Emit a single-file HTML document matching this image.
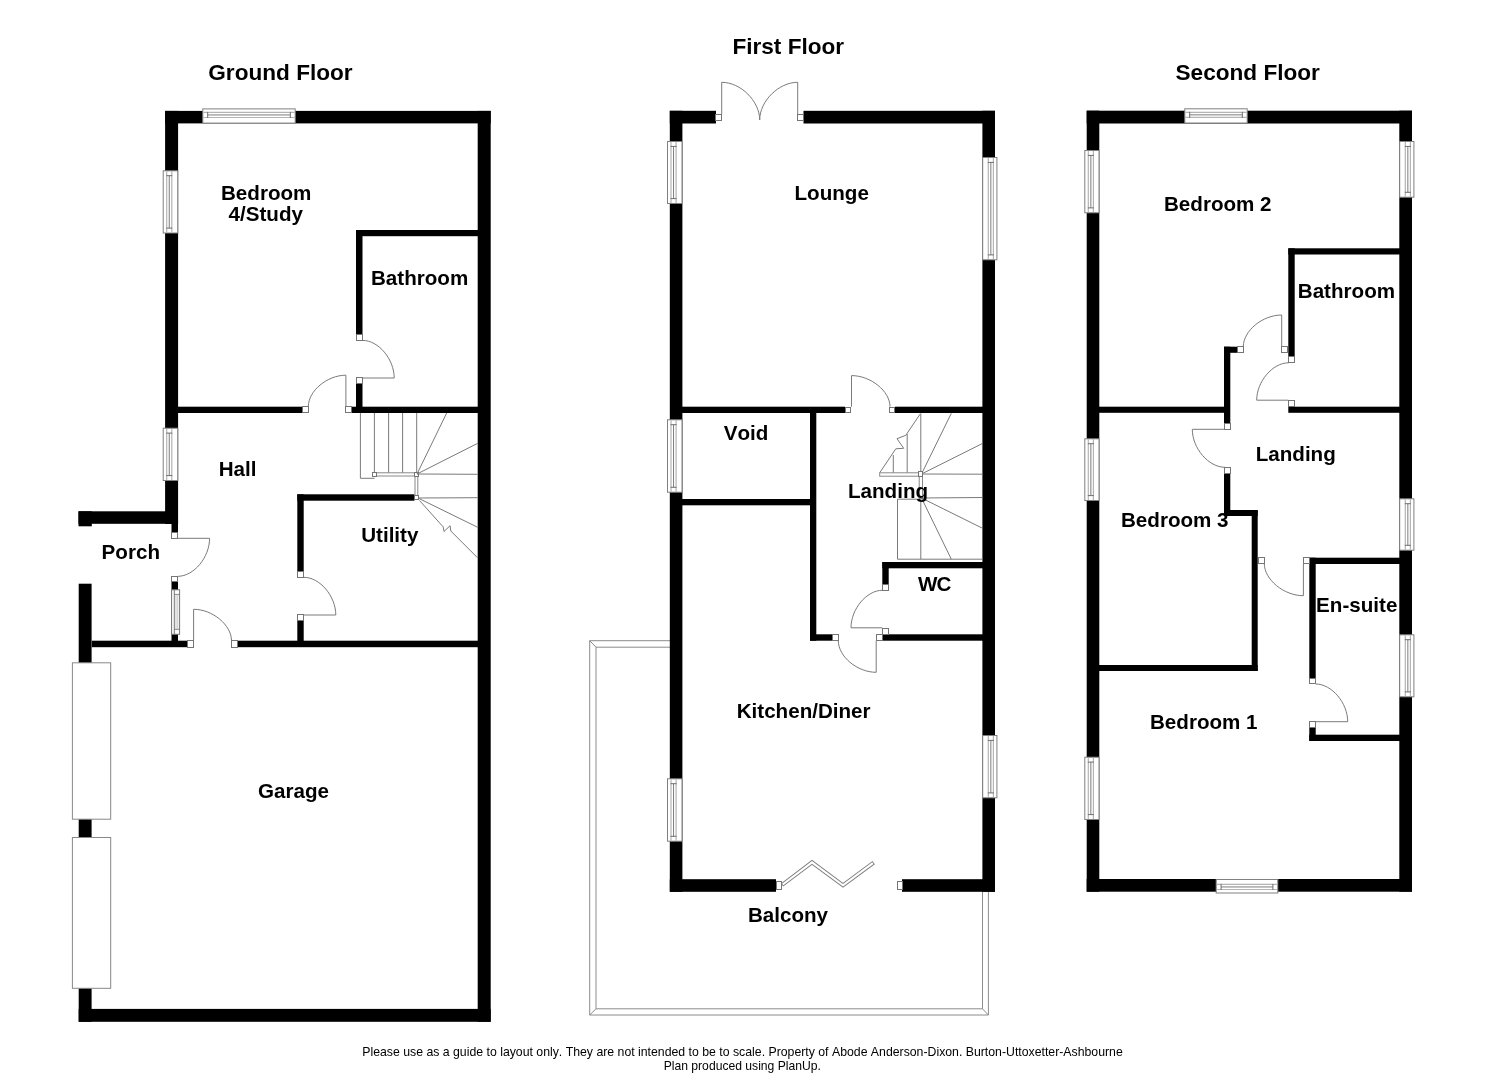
<!DOCTYPE html>
<html><head><meta charset="utf-8"><title>Floor plan</title>
<style>
html,body{margin:0;padding:0;background:#fff;}
svg{display:block;will-change:transform;}
text{font-family:"Liberation Sans",sans-serif;fill:#000;font-kerning:none;}
</style></head><body>
<svg width="1485" height="1080" viewBox="0 0 1485 1080">
<rect width="1485" height="1080" fill="#fff"/>
<rect x="165.1" y="110.9" width="325.6" height="12.5" fill="#000"/>
<rect x="165.1" y="110.9" width="13.0" height="413.1" fill="#000"/>
<rect x="477.7" y="110.9" width="13.0" height="910.9" fill="#000"/>
<rect x="78.7" y="1008.9" width="412.0" height="12.9" fill="#000"/>
<rect x="78.7" y="583.7" width="12.9" height="438.1" fill="#000"/>
<rect x="78.5" y="511.3" width="99.5" height="12.5" fill="#000"/>
<rect x="78.5" y="511.3" width="13.3" height="15.0" fill="#000"/>
<rect x="171.5" y="523" width="6.5" height="9.5" fill="#000"/>
<rect x="171.5" y="582" width="6.5" height="59" fill="#000"/>
<rect x="178" y="406.7" width="124" height="6.3" fill="#000"/>
<rect x="352" y="406.7" width="126" height="6.3" fill="#000"/>
<rect x="356" y="230" width="122" height="6.2" fill="#000"/>
<rect x="356" y="230" width="6.5" height="104" fill="#000"/>
<rect x="356" y="384" width="6.5" height="23" fill="#000"/>
<rect x="297.3" y="494.3" width="117.2" height="6.4" fill="#000"/>
<rect x="297.3" y="494.3" width="6.4" height="76.7" fill="#000"/>
<rect x="297.3" y="621" width="6.4" height="20" fill="#000"/>
<rect x="91.8" y="640.7" width="95.5" height="6.5" fill="#000"/>
<rect x="237.5" y="640.7" width="240.5" height="6.5" fill="#000"/>
<rect x="202.8" y="108.9" width="92.4" height="14.2" fill="#fff" stroke="#808080" stroke-width="1"/>
<line x1="203.3" y1="112.4" x2="294.7" y2="112.4" stroke="#b4b4b4" stroke-width="1.2"/>
<line x1="203.3" y1="117.5" x2="294.7" y2="117.5" stroke="#b4b4b4" stroke-width="1.2"/>
<line x1="207.70000000000002" y1="114.95" x2="290.3" y2="114.95" stroke="#6e6e6e" stroke-width="0.9"/>
<line x1="207.70000000000002" y1="111.9" x2="207.70000000000002" y2="118.0" stroke="#6e6e6e" stroke-width="1"/>
<line x1="290.3" y1="111.9" x2="290.3" y2="118.0" stroke="#6e6e6e" stroke-width="1"/>
<rect x="163.2" y="170.8" width="14.6" height="62.2" fill="#fff" stroke="#808080" stroke-width="1"/>
<line x1="166.7" y1="171.3" x2="166.7" y2="232.5" stroke="#b4b4b4" stroke-width="1.2"/>
<line x1="171.79999999999998" y1="171.3" x2="171.79999999999998" y2="232.5" stroke="#b4b4b4" stroke-width="1.2"/>
<line x1="169.25" y1="175.70000000000002" x2="169.25" y2="228.1" stroke="#6e6e6e" stroke-width="0.9"/>
<line x1="166.2" y1="175.70000000000002" x2="172.29999999999998" y2="175.70000000000002" stroke="#6e6e6e" stroke-width="1"/>
<line x1="166.2" y1="228.1" x2="172.29999999999998" y2="228.1" stroke="#6e6e6e" stroke-width="1"/>
<rect x="163.2" y="428.2" width="14.6" height="52.3" fill="#fff" stroke="#808080" stroke-width="1"/>
<line x1="166.7" y1="428.7" x2="166.7" y2="480" stroke="#b4b4b4" stroke-width="1.2"/>
<line x1="171.79999999999998" y1="428.7" x2="171.79999999999998" y2="480" stroke="#b4b4b4" stroke-width="1.2"/>
<line x1="169.25" y1="433.09999999999997" x2="169.25" y2="475.6" stroke="#6e6e6e" stroke-width="0.9"/>
<line x1="166.2" y1="433.09999999999997" x2="172.29999999999998" y2="433.09999999999997" stroke="#6e6e6e" stroke-width="1"/>
<line x1="166.2" y1="475.6" x2="172.29999999999998" y2="475.6" stroke="#6e6e6e" stroke-width="1"/>
<rect x="171.6" y="589.8" width="8.0" height="44.5" fill="#fff" stroke="#777" stroke-width="1"/>
<line x1="174.3" y1="589.8" x2="174.3" y2="634.3" stroke="#777" stroke-width="1"/>
<line x1="174.3" y1="594.4" x2="179.6" y2="594.4" stroke="#777" stroke-width="1"/>
<line x1="174.3" y1="629.3" x2="179.6" y2="629.3" stroke="#777" stroke-width="1"/>
<line x1="176" y1="594.4" x2="176" y2="629.3" stroke="#c6c6c6" stroke-width="1"/>
<line x1="177.8" y1="594.4" x2="177.8" y2="629.3" stroke="#c6c6c6" stroke-width="1"/>
<rect x="72.4" y="662.8" width="38.3" height="156.4" fill="#fff" stroke="#888" stroke-width="1"/>
<rect x="72.4" y="837.5" width="38.3" height="150.8" fill="#fff" stroke="#888" stroke-width="1"/>
<rect x="302.5" y="406.5" width="6.0" height="6.0" fill="#fff" stroke="#757575" stroke-width="1"/>
<rect x="345.5" y="406.5" width="6.0" height="6.0" fill="#fff" stroke="#757575" stroke-width="1"/>
<rect x="356.5" y="334.5" width="6.0" height="6.0" fill="#fff" stroke="#757575" stroke-width="1"/>
<rect x="356.5" y="377.5" width="6.0" height="6.0" fill="#fff" stroke="#757575" stroke-width="1"/>
<rect x="171.5" y="532.5" width="6.0" height="6.0" fill="#fff" stroke="#757575" stroke-width="1"/>
<rect x="171.5" y="576.5" width="6.0" height="5.0" fill="#fff" stroke="#757575" stroke-width="1"/>
<rect x="297.5" y="571.5" width="6.0" height="6.0" fill="#fff" stroke="#757575" stroke-width="1"/>
<rect x="297.5" y="614.5" width="6.0" height="6.0" fill="#fff" stroke="#757575" stroke-width="1"/>
<rect x="187.5" y="640.5" width="6.0" height="7.0" fill="#fff" stroke="#757575" stroke-width="1"/>
<rect x="231.5" y="640.5" width="6.0" height="7.0" fill="#fff" stroke="#757575" stroke-width="1"/>
<path d="M345.9 406.7 L345.9 375.2 C327.1 375.2 308.3 390.95 308.3 406.7" fill="none" stroke="#7a7a7a" stroke-width="1"/>
<path d="M362.7 378 L394.2 378 C394.2 359.2 378.45 340.4 362.7 340.4" fill="none" stroke="#7a7a7a" stroke-width="1"/>
<path d="M178 538.3 L209.6 538.3 C209.6 557.3 193.8 576.3 178 576.3" fill="none" stroke="#7a7a7a" stroke-width="1"/>
<path d="M193.6 640.7 L193.6 609.3 C212.55 609.3 231.5 625.0 231.5 640.7" fill="none" stroke="#7a7a7a" stroke-width="1"/>
<path d="M303.8 615 L335.8 615 C335.8 596.15 319.8 577.3 303.8 577.3" fill="none" stroke="#7a7a7a" stroke-width="1"/>
<line x1="360.4" y1="413" x2="360.4" y2="478.3" stroke="#7a7a7a" stroke-width="1"/>
<line x1="374.4" y1="413" x2="374.4" y2="473" stroke="#7a7a7a" stroke-width="1"/>
<line x1="388.6" y1="413" x2="388.6" y2="473" stroke="#7a7a7a" stroke-width="1"/>
<line x1="402.6" y1="413" x2="402.6" y2="473" stroke="#7a7a7a" stroke-width="1"/>
<line x1="416.7" y1="413" x2="416.7" y2="473" stroke="#7a7a7a" stroke-width="1"/>
<line x1="360.4" y1="478.3" x2="374.6" y2="478.3" stroke="#7a7a7a" stroke-width="1"/>
<rect x="372.5" y="472.8" width="46.0" height="3.2" fill="#fff" stroke="#888" stroke-width="1"/>
<rect x="415" y="476" width="2.8" height="19.7" fill="#fff" stroke="#888" stroke-width="1"/>
<rect x="372.5" y="472.5" width="4.0" height="4.0" fill="#fff" stroke="#757575" stroke-width="1"/>
<rect x="414.5" y="472.5" width="4.0" height="4.0" fill="#fff" stroke="#757575" stroke-width="1"/>
<rect x="414.5" y="495.5" width="4.0" height="4.0" fill="#fff" stroke="#757575" stroke-width="1"/>
<line x1="417" y1="474" x2="446.7" y2="413" stroke="#7a7a7a" stroke-width="1"/>
<line x1="417" y1="474" x2="477.7" y2="443.3" stroke="#7a7a7a" stroke-width="1"/>
<line x1="417" y1="474" x2="477.7" y2="474.3" stroke="#7a7a7a" stroke-width="1"/>
<line x1="418" y1="498" x2="477.7" y2="497.7" stroke="#7a7a7a" stroke-width="1"/>
<line x1="418" y1="498" x2="477.7" y2="527.3" stroke="#7a7a7a" stroke-width="1"/>
<path d="M419.5 500.5 L443.2 526.9 L444 531.5 L450.1 525.7 L450.8 531 L477.6 557.8" fill="none" stroke="#7a7a7a" stroke-width="1"/>
<path d="M670 640.7 L589.7 640.7 L589.7 1015 L988.4 1015 L988.4 891 M670 647.2 L596 647.2 L596 1008.8 L982.5 1008.8 L982.5 891 M589.7 640.7 L596 647.2 M589.7 1015 L596 1008.8 M988.4 1015 L982.5 1008.8" fill="none" stroke="#8c8c8c" stroke-width="1"/>
<rect x="669.8" y="110.8" width="46.2" height="12.7" fill="#000"/>
<rect x="803.5" y="110.8" width="191.5" height="12.7" fill="#000"/>
<rect x="669.8" y="110.8" width="12.6" height="781.0" fill="#000"/>
<rect x="982.4" y="110.8" width="12.6" height="781.0" fill="#000"/>
<rect x="669.8" y="879.2" width="106.2" height="12.6" fill="#000"/>
<rect x="902" y="879.2" width="93" height="12.6" fill="#000"/>
<rect x="682" y="406.7" width="163" height="6.3" fill="#000"/>
<rect x="895" y="406.7" width="88" height="6.3" fill="#000"/>
<rect x="810" y="413" width="6.3" height="227.7" fill="#000"/>
<rect x="682" y="499" width="129" height="6.3" fill="#000"/>
<rect x="810" y="634.3" width="22.5" height="6.4" fill="#000"/>
<rect x="882.3" y="634.3" width="100.7" height="6.4" fill="#000"/>
<rect x="882.3" y="562" width="100.7" height="6.3" fill="#000"/>
<rect x="882.3" y="562" width="6.4" height="22" fill="#000"/>
<rect x="667.5" y="141.5" width="14.5" height="62.0" fill="#fff" stroke="#808080" stroke-width="1"/>
<line x1="671.0" y1="142" x2="671.0" y2="203" stroke="#b4b4b4" stroke-width="1.2"/>
<line x1="676.1" y1="142" x2="676.1" y2="203" stroke="#b4b4b4" stroke-width="1.2"/>
<line x1="673.55" y1="146.4" x2="673.55" y2="198.6" stroke="#6e6e6e" stroke-width="0.9"/>
<line x1="670.5" y1="146.4" x2="676.6" y2="146.4" stroke="#6e6e6e" stroke-width="1"/>
<line x1="670.5" y1="198.6" x2="676.6" y2="198.6" stroke="#6e6e6e" stroke-width="1"/>
<rect x="667.5" y="419.8" width="14.5" height="72.4" fill="#fff" stroke="#808080" stroke-width="1"/>
<line x1="671.0" y1="420.3" x2="671.0" y2="491.7" stroke="#b4b4b4" stroke-width="1.2"/>
<line x1="676.1" y1="420.3" x2="676.1" y2="491.7" stroke="#b4b4b4" stroke-width="1.2"/>
<line x1="673.55" y1="424.7" x2="673.55" y2="487.3" stroke="#6e6e6e" stroke-width="0.9"/>
<line x1="670.5" y1="424.7" x2="676.6" y2="424.7" stroke="#6e6e6e" stroke-width="1"/>
<line x1="670.5" y1="487.3" x2="676.6" y2="487.3" stroke="#6e6e6e" stroke-width="1"/>
<rect x="667.5" y="778.8" width="14.5" height="62.4" fill="#fff" stroke="#808080" stroke-width="1"/>
<line x1="671.0" y1="779.3" x2="671.0" y2="840.7" stroke="#b4b4b4" stroke-width="1.2"/>
<line x1="676.1" y1="779.3" x2="676.1" y2="840.7" stroke="#b4b4b4" stroke-width="1.2"/>
<line x1="673.55" y1="783.6999999999999" x2="673.55" y2="836.3000000000001" stroke="#6e6e6e" stroke-width="0.9"/>
<line x1="670.5" y1="783.6999999999999" x2="676.6" y2="783.6999999999999" stroke="#6e6e6e" stroke-width="1"/>
<line x1="670.5" y1="836.3000000000001" x2="676.6" y2="836.3000000000001" stroke="#6e6e6e" stroke-width="1"/>
<rect x="982.7" y="157.5" width="14.2" height="102.3" fill="#fff" stroke="#808080" stroke-width="1"/>
<line x1="993.4" y1="158" x2="993.4" y2="259.3" stroke="#b4b4b4" stroke-width="1.2"/>
<line x1="988.3" y1="158" x2="988.3" y2="259.3" stroke="#b4b4b4" stroke-width="1.2"/>
<line x1="990.8499999999999" y1="162.4" x2="990.8499999999999" y2="254.9" stroke="#6e6e6e" stroke-width="0.9"/>
<line x1="987.8" y1="162.4" x2="993.9" y2="162.4" stroke="#6e6e6e" stroke-width="1"/>
<line x1="987.8" y1="254.9" x2="993.9" y2="254.9" stroke="#6e6e6e" stroke-width="1"/>
<rect x="982.7" y="735.5" width="14.2" height="62.3" fill="#fff" stroke="#808080" stroke-width="1"/>
<line x1="993.4" y1="736" x2="993.4" y2="797.3" stroke="#b4b4b4" stroke-width="1.2"/>
<line x1="988.3" y1="736" x2="988.3" y2="797.3" stroke="#b4b4b4" stroke-width="1.2"/>
<line x1="990.8499999999999" y1="740.4" x2="990.8499999999999" y2="792.9" stroke="#6e6e6e" stroke-width="0.9"/>
<line x1="987.8" y1="740.4" x2="993.9" y2="740.4" stroke="#6e6e6e" stroke-width="1"/>
<line x1="987.8" y1="792.9" x2="993.9" y2="792.9" stroke="#6e6e6e" stroke-width="1"/>
<rect x="715.5" y="114.5" width="6.0" height="6.0" fill="#fff" stroke="#757575" stroke-width="1"/>
<rect x="797.5" y="114.5" width="6.0" height="6.0" fill="#fff" stroke="#757575" stroke-width="1"/>
<rect x="845.5" y="407.5" width="5.0" height="5.0" fill="#fff" stroke="#757575" stroke-width="1"/>
<rect x="889.5" y="407.5" width="5.0" height="5.0" fill="#fff" stroke="#757575" stroke-width="1"/>
<rect x="832.5" y="634.5" width="6.0" height="6.0" fill="#fff" stroke="#757575" stroke-width="1"/>
<rect x="876.5" y="634.5" width="6.0" height="6.0" fill="#fff" stroke="#757575" stroke-width="1"/>
<rect x="882.5" y="584.5" width="6.0" height="6.0" fill="#fff" stroke="#757575" stroke-width="1"/>
<rect x="882.5" y="628.5" width="6.0" height="6.0" fill="#fff" stroke="#757575" stroke-width="1"/>
<rect x="776.5" y="881.5" width="5.0" height="8.0" fill="#fff" stroke="#757575" stroke-width="1"/>
<rect x="897.5" y="881.5" width="5.0" height="8.0" fill="#fff" stroke="#757575" stroke-width="1"/>
<path d="M721.7 114.3 L721.7 82.3 C740.7 82.3 759.7 101.15 759.7 120" fill="none" stroke="#7a7a7a" stroke-width="1"/>
<path d="M797.7 114.3 L797.7 82.3 C778.7 82.3 759.7 101.15 759.7 120" fill="none" stroke="#7a7a7a" stroke-width="1"/>
<path d="M851.5 406.7 L851.5 375.6 C870.75 375.6 890 391.15 890 406.7" fill="none" stroke="#7a7a7a" stroke-width="1"/>
<path d="M882.3 627.8 L851 627.8 C851 609.05 866.65 590.3 882.3 590.3" fill="none" stroke="#7a7a7a" stroke-width="1"/>
<path d="M876.2 640.7 L876.2 672.3 C857.25 672.3 838.3 656.5 838.3 640.7" fill="none" stroke="#7a7a7a" stroke-width="1"/>
<path d="M782 885 L812 862.3 L843 885.3 L873.7 862.6" fill="none" stroke="#808080" stroke-width="4"/>
<path d="M782.7 884.5 L812 862.3 L843 885.3 L872.9 863.2" fill="none" stroke="#fff" stroke-width="2.1"/>
<line x1="920.8" y1="413.3" x2="920.8" y2="474.2" stroke="#7a7a7a" stroke-width="1"/>
<path d="M920 414.2 L905.8 435.3 L897 438.7 L903.7 448.3 L895.8 448.8 L879.7 472.8" fill="none" stroke="#7a7a7a" stroke-width="1"/>
<line x1="907.2" y1="434" x2="907.2" y2="472.8" stroke="#7a7a7a" stroke-width="1"/>
<line x1="893.3" y1="455" x2="893.3" y2="472.8" stroke="#7a7a7a" stroke-width="1"/>
<rect x="879.7" y="472.8" width="39.5" height="3.4" fill="#fff" stroke="#888" stroke-width="1"/>
<rect x="919.2" y="476" width="3.3" height="22.5" fill="#fff" stroke="#888" stroke-width="1"/>
<line x1="921.5" y1="474" x2="951.3" y2="413.3" stroke="#7a7a7a" stroke-width="1"/>
<line x1="921.5" y1="474" x2="982" y2="443.7" stroke="#7a7a7a" stroke-width="1"/>
<line x1="921.5" y1="474" x2="982" y2="474.2" stroke="#7a7a7a" stroke-width="1"/>
<line x1="921.5" y1="498" x2="982" y2="497.5" stroke="#7a7a7a" stroke-width="1"/>
<line x1="921.5" y1="498" x2="982" y2="528" stroke="#7a7a7a" stroke-width="1"/>
<line x1="921.5" y1="498" x2="951.3" y2="559.2" stroke="#7a7a7a" stroke-width="1"/>
<line x1="920.8" y1="499" x2="920.8" y2="559.2" stroke="#7a7a7a" stroke-width="1"/>
<line x1="897.5" y1="499.2" x2="897.5" y2="559.2" stroke="#7a7a7a" stroke-width="1"/>
<line x1="897.5" y1="559.2" x2="982" y2="559.2" stroke="#7a7a7a" stroke-width="1"/>
<line x1="897.5" y1="499.2" x2="920.8" y2="499.2" stroke="#7a7a7a" stroke-width="1"/>
<rect x="918.5" y="471.5" width="4.0" height="5.0" fill="#fff" stroke="#757575" stroke-width="1"/>
<rect x="1086.7" y="110.7" width="325.3" height="12.8" fill="#000"/>
<rect x="1086.7" y="110.7" width="12.6" height="781.0" fill="#000"/>
<rect x="1399.3" y="110.7" width="12.7" height="781.0" fill="#000"/>
<rect x="1086.7" y="879" width="325.3" height="12.7" fill="#000"/>
<rect x="1288.3" y="248.3" width="111.7" height="6.2" fill="#000"/>
<rect x="1288.3" y="248.3" width="6.4" height="107.7" fill="#000"/>
<rect x="1224" y="346.7" width="13" height="6.1" fill="#000"/>
<rect x="1224" y="346.7" width="6.3" height="76.6" fill="#000"/>
<rect x="1224" y="473.3" width="6.3" height="42.7" fill="#000"/>
<rect x="1099" y="406.7" width="125" height="6.1" fill="#000"/>
<rect x="1288.3" y="406.7" width="111.7" height="6.1" fill="#000"/>
<rect x="1224" y="510" width="33.7" height="6" fill="#000"/>
<rect x="1251.7" y="510" width="6.0" height="161" fill="#000"/>
<rect x="1099" y="665" width="158.7" height="6" fill="#000"/>
<rect x="1309.3" y="557.7" width="90.7" height="6.3" fill="#000"/>
<rect x="1309.3" y="557.7" width="6.4" height="120.3" fill="#000"/>
<rect x="1309.3" y="728" width="6.4" height="13" fill="#000"/>
<rect x="1309.3" y="734.7" width="90.7" height="6.3" fill="#000"/>
<rect x="1184.8" y="108.8" width="62.4" height="14.2" fill="#fff" stroke="#808080" stroke-width="1"/>
<line x1="1185.3" y1="112.3" x2="1246.7" y2="112.3" stroke="#b4b4b4" stroke-width="1.2"/>
<line x1="1185.3" y1="117.39999999999999" x2="1246.7" y2="117.39999999999999" stroke="#b4b4b4" stroke-width="1.2"/>
<line x1="1189.7" y1="114.85" x2="1242.3" y2="114.85" stroke="#6e6e6e" stroke-width="0.9"/>
<line x1="1189.7" y1="111.8" x2="1189.7" y2="117.89999999999999" stroke="#6e6e6e" stroke-width="1"/>
<line x1="1242.3" y1="111.8" x2="1242.3" y2="117.89999999999999" stroke="#6e6e6e" stroke-width="1"/>
<rect x="1216.2" y="879.5" width="61.6" height="13.5" fill="#fff" stroke="#808080" stroke-width="1"/>
<line x1="1216.7" y1="889.5" x2="1277.3" y2="889.5" stroke="#b4b4b4" stroke-width="1.2"/>
<line x1="1216.7" y1="884.4" x2="1277.3" y2="884.4" stroke="#b4b4b4" stroke-width="1.2"/>
<line x1="1221.1000000000001" y1="886.95" x2="1272.8999999999999" y2="886.95" stroke="#6e6e6e" stroke-width="0.9"/>
<line x1="1221.1000000000001" y1="883.9" x2="1221.1000000000001" y2="890.0" stroke="#6e6e6e" stroke-width="1"/>
<line x1="1272.8999999999999" y1="883.9" x2="1272.8999999999999" y2="890.0" stroke="#6e6e6e" stroke-width="1"/>
<rect x="1084.8" y="150.5" width="14.2" height="62.3" fill="#fff" stroke="#808080" stroke-width="1"/>
<line x1="1088.3" y1="151" x2="1088.3" y2="212.3" stroke="#b4b4b4" stroke-width="1.2"/>
<line x1="1093.3999999999999" y1="151" x2="1093.3999999999999" y2="212.3" stroke="#b4b4b4" stroke-width="1.2"/>
<line x1="1090.85" y1="155.4" x2="1090.85" y2="207.9" stroke="#6e6e6e" stroke-width="0.9"/>
<line x1="1087.8" y1="155.4" x2="1093.8999999999999" y2="155.4" stroke="#6e6e6e" stroke-width="1"/>
<line x1="1087.8" y1="207.9" x2="1093.8999999999999" y2="207.9" stroke="#6e6e6e" stroke-width="1"/>
<rect x="1084.8" y="438.8" width="14.2" height="61.7" fill="#fff" stroke="#808080" stroke-width="1"/>
<line x1="1088.3" y1="439.3" x2="1088.3" y2="500" stroke="#b4b4b4" stroke-width="1.2"/>
<line x1="1093.3999999999999" y1="439.3" x2="1093.3999999999999" y2="500" stroke="#b4b4b4" stroke-width="1.2"/>
<line x1="1090.85" y1="443.7" x2="1090.85" y2="495.6" stroke="#6e6e6e" stroke-width="0.9"/>
<line x1="1087.8" y1="443.7" x2="1093.8999999999999" y2="443.7" stroke="#6e6e6e" stroke-width="1"/>
<line x1="1087.8" y1="495.6" x2="1093.8999999999999" y2="495.6" stroke="#6e6e6e" stroke-width="1"/>
<rect x="1084.8" y="757.2" width="14.2" height="62.3" fill="#fff" stroke="#808080" stroke-width="1"/>
<line x1="1088.3" y1="757.7" x2="1088.3" y2="819" stroke="#b4b4b4" stroke-width="1.2"/>
<line x1="1093.3999999999999" y1="757.7" x2="1093.3999999999999" y2="819" stroke="#b4b4b4" stroke-width="1.2"/>
<line x1="1090.85" y1="762.1" x2="1090.85" y2="814.6" stroke="#6e6e6e" stroke-width="0.9"/>
<line x1="1087.8" y1="762.1" x2="1093.8999999999999" y2="762.1" stroke="#6e6e6e" stroke-width="1"/>
<line x1="1087.8" y1="814.6" x2="1093.8999999999999" y2="814.6" stroke="#6e6e6e" stroke-width="1"/>
<rect x="1399.7" y="141.5" width="14.2" height="55.7" fill="#fff" stroke="#808080" stroke-width="1"/>
<line x1="1410.4" y1="142" x2="1410.4" y2="196.7" stroke="#b4b4b4" stroke-width="1.2"/>
<line x1="1405.3000000000002" y1="142" x2="1405.3000000000002" y2="196.7" stroke="#b4b4b4" stroke-width="1.2"/>
<line x1="1407.8500000000001" y1="146.4" x2="1407.8500000000001" y2="192.29999999999998" stroke="#6e6e6e" stroke-width="0.9"/>
<line x1="1404.8000000000002" y1="146.4" x2="1410.9" y2="146.4" stroke="#6e6e6e" stroke-width="1"/>
<line x1="1404.8000000000002" y1="192.29999999999998" x2="1410.9" y2="192.29999999999998" stroke="#6e6e6e" stroke-width="1"/>
<rect x="1399.7" y="498.8" width="14.2" height="51.4" fill="#fff" stroke="#808080" stroke-width="1"/>
<line x1="1410.4" y1="499.3" x2="1410.4" y2="549.7" stroke="#b4b4b4" stroke-width="1.2"/>
<line x1="1405.3000000000002" y1="499.3" x2="1405.3000000000002" y2="549.7" stroke="#b4b4b4" stroke-width="1.2"/>
<line x1="1407.8500000000001" y1="503.7" x2="1407.8500000000001" y2="545.3000000000001" stroke="#6e6e6e" stroke-width="0.9"/>
<line x1="1404.8000000000002" y1="503.7" x2="1410.9" y2="503.7" stroke="#6e6e6e" stroke-width="1"/>
<line x1="1404.8000000000002" y1="545.3000000000001" x2="1410.9" y2="545.3000000000001" stroke="#6e6e6e" stroke-width="1"/>
<rect x="1399.7" y="634.8" width="14.2" height="62.0" fill="#fff" stroke="#808080" stroke-width="1"/>
<line x1="1410.4" y1="635.3" x2="1410.4" y2="696.3" stroke="#b4b4b4" stroke-width="1.2"/>
<line x1="1405.3000000000002" y1="635.3" x2="1405.3000000000002" y2="696.3" stroke="#b4b4b4" stroke-width="1.2"/>
<line x1="1407.8500000000001" y1="639.6999999999999" x2="1407.8500000000001" y2="691.9" stroke="#6e6e6e" stroke-width="0.9"/>
<line x1="1404.8000000000002" y1="639.6999999999999" x2="1410.9" y2="639.6999999999999" stroke="#6e6e6e" stroke-width="1"/>
<line x1="1404.8000000000002" y1="691.9" x2="1410.9" y2="691.9" stroke="#6e6e6e" stroke-width="1"/>
<rect x="1237.5" y="346.5" width="6.0" height="6.0" fill="#fff" stroke="#757575" stroke-width="1"/>
<rect x="1281.5" y="346.5" width="6.0" height="6.0" fill="#fff" stroke="#757575" stroke-width="1"/>
<rect x="1288.5" y="356.5" width="6.0" height="6.0" fill="#fff" stroke="#757575" stroke-width="1"/>
<rect x="1288.5" y="400.5" width="6.0" height="6.0" fill="#fff" stroke="#757575" stroke-width="1"/>
<rect x="1224.5" y="423.5" width="6.0" height="6.0" fill="#fff" stroke="#757575" stroke-width="1"/>
<rect x="1224.5" y="467.5" width="6.0" height="6.0" fill="#fff" stroke="#757575" stroke-width="1"/>
<rect x="1258.5" y="557.5" width="6.0" height="6.0" fill="#fff" stroke="#757575" stroke-width="1"/>
<rect x="1303.5" y="557.5" width="6.0" height="6.0" fill="#fff" stroke="#757575" stroke-width="1"/>
<rect x="1309.5" y="678.5" width="6.0" height="5.0" fill="#fff" stroke="#757575" stroke-width="1"/>
<rect x="1309.5" y="721.5" width="6.0" height="6.0" fill="#fff" stroke="#757575" stroke-width="1"/>
<path d="M1281.7 346.7 L1281.7 315 C1262.5 315 1243.3 330.85 1243.3 346.7" fill="none" stroke="#7a7a7a" stroke-width="1"/>
<path d="M1288.3 400.2 L1256.7 400.2 C1256.7 381.5 1272.65 362.8 1288.6 362.8" fill="none" stroke="#7a7a7a" stroke-width="1"/>
<path d="M1224 429.3 L1192.3 429.3 C1192.3 448.3 1208.65 467.3 1225 467.3" fill="none" stroke="#7a7a7a" stroke-width="1"/>
<path d="M1303.4 564 L1303.4 595.7 C1283.85 595.7 1264.3 579.6 1264.3 563.5" fill="none" stroke="#7a7a7a" stroke-width="1"/>
<path d="M1315.7 721.7 L1347.7 721.7 C1347.7 702.85 1331.7 684 1315.7 684" fill="none" stroke="#7a7a7a" stroke-width="1"/>
<text x="208.3" y="80" font-size="22.6" font-weight="bold" text-anchor="start">Ground Floor</text>
<text x="732.4" y="54" font-size="22.6" font-weight="bold" text-anchor="start">First Floor</text>
<text x="1175.5" y="80" font-size="22.6" font-weight="bold" text-anchor="start">Second Floor</text>
<text x="221" y="200" font-size="20.6" font-weight="bold" text-anchor="start">Bedroom</text>
<text x="228.6" y="221" font-size="20.6" font-weight="bold" text-anchor="start">4/Study</text>
<text x="371" y="285" font-size="20.6" font-weight="bold" text-anchor="start">Bathroom</text>
<text x="218.7" y="476" font-size="20.6" font-weight="bold" text-anchor="start">Hall</text>
<text x="101.6" y="559" font-size="20.6" font-weight="bold" text-anchor="start">Porch</text>
<text x="361.2" y="542" font-size="20.6" font-weight="bold" text-anchor="start">Utility</text>
<text x="258" y="798" font-size="20.6" font-weight="bold" text-anchor="start">Garage</text>
<text x="794.5" y="200" font-size="20.6" font-weight="bold" text-anchor="start">Lounge</text>
<text x="723.7" y="440" font-size="20.6" font-weight="bold" text-anchor="start">Void</text>
<text x="848" y="498" font-size="20.6" font-weight="bold" text-anchor="start">Landing</text>
<text x="918" y="591" font-size="20.6" font-weight="bold" text-anchor="start" textLength="33.3" lengthAdjust="spacing">WC</text>
<text x="736.7" y="718" font-size="20.6" font-weight="bold" text-anchor="start">Kitchen/Diner</text>
<text x="747.9" y="922" font-size="20.6" font-weight="bold" text-anchor="start">Balcony</text>
<text x="1164" y="211" font-size="20.6" font-weight="bold" text-anchor="start">Bedroom 2</text>
<text x="1297.8" y="298" font-size="20.6" font-weight="bold" text-anchor="start">Bathroom</text>
<text x="1255.7" y="461" font-size="20.6" font-weight="bold" text-anchor="start">Landing</text>
<text x="1121" y="527" font-size="20.6" font-weight="bold" text-anchor="start">Bedroom 3</text>
<text x="1316.1" y="612" font-size="20.6" font-weight="bold" text-anchor="start">En-suite</text>
<text x="1150" y="729" font-size="20.6" font-weight="bold" text-anchor="start">Bedroom 1</text>
<text x="742.5" y="1056" font-size="12.29" font-weight="normal" text-anchor="middle">Please use as a guide to layout only. They are not intended to be to scale. Property of Abode Anderson-Dixon. Burton-Uttoxetter-Ashbourne</text>
<text x="742.3" y="1070" font-size="12.15" font-weight="normal" text-anchor="middle">Plan produced using PlanUp.</text>
</svg>
</body></html>
